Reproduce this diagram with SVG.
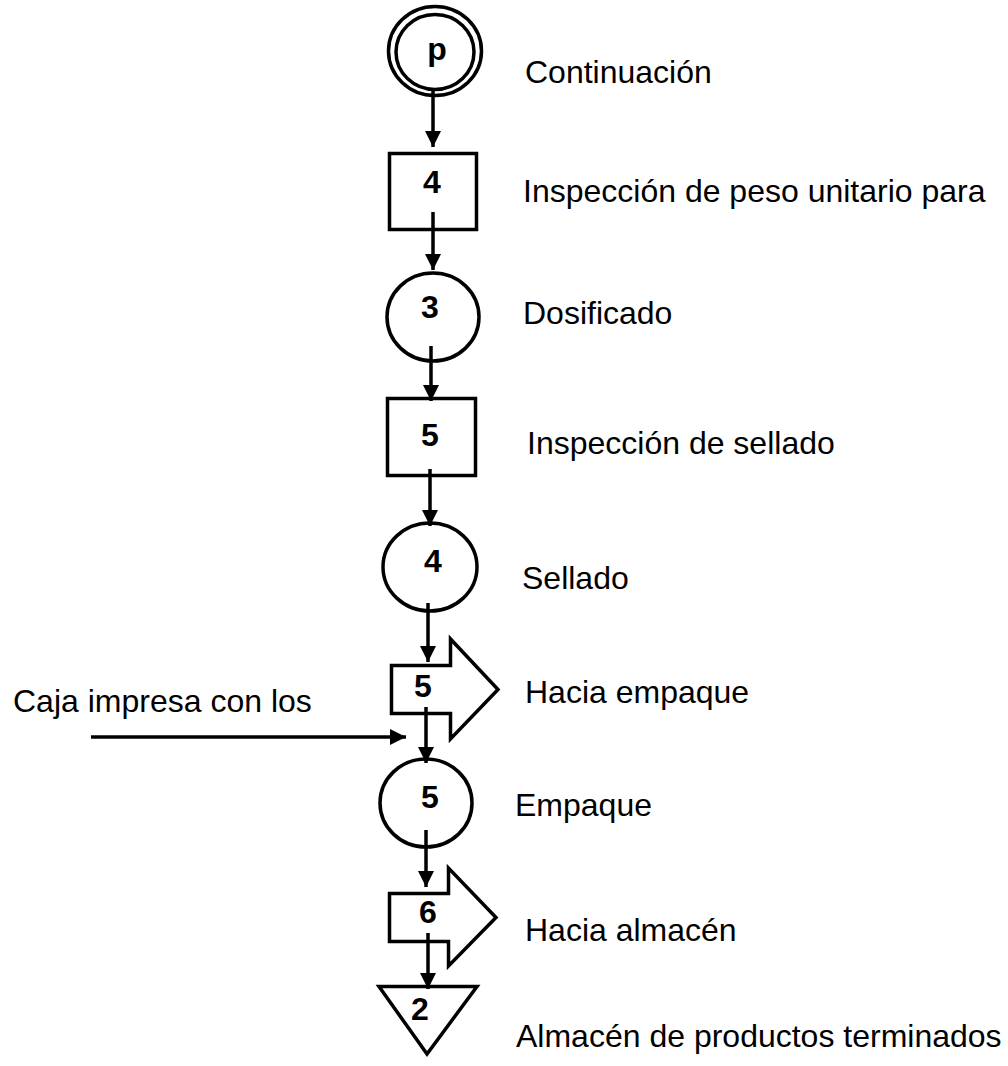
<svg xmlns="http://www.w3.org/2000/svg" width="1008" height="1066" viewBox="0 0 1008 1066">
<style>
.shape{fill:#fff;stroke:#000;stroke-width:3.5;stroke-linejoin:miter}
.num{font-family:"Liberation Sans",Arial,sans-serif;font-weight:bold;font-size:32px;fill:#000;text-anchor:middle}
.lbl{font-family:"Liberation Sans",Arial,sans-serif;font-size:32px;fill:#000}
.conn{stroke:#000;stroke-width:3.5;fill:none}
</style>
<defs>
<marker id="ah" markerUnits="userSpaceOnUse" markerWidth="18" markerHeight="18" refX="16" refY="8" orient="auto">
<path d="M0,0 L16,8 L0,16 z" fill="#000"/>
</marker>
</defs>
<rect width="1008" height="1066" fill="#fff"/>
<g id="n-continuacion">
<ellipse class="shape" cx="435" cy="51" rx="46.5" ry="44.5"/>
<ellipse class="shape" cx="435" cy="52" rx="39" ry="37.5"/>
<text class="num" x="437" y="60">p</text>
<text class="lbl" x="525" y="83">Continuación</text>
</g>
<g id="n-insp4">
<rect class="shape" x="389.5" y="153.5" width="87" height="76"/>
<text class="num" x="432" y="193">4</text>
<text class="lbl" x="523" y="202">Inspección de peso unitario para</text>
</g>
<g id="n-op3">
<ellipse class="shape" cx="433" cy="317" rx="46" ry="44"/>
<text class="num" x="430" y="318">3</text>
<text class="lbl" x="523" y="324">Dosificado</text>
</g>
<g id="n-insp5">
<rect class="shape" x="387.5" y="398.5" width="88" height="77"/>
<text class="num" x="430" y="446">5</text>
<text class="lbl" x="527" y="454">Inspección de sellado</text>
</g>
<g id="n-op4">
<ellipse class="shape" cx="430" cy="567" rx="47" ry="44"/>
<text class="num" x="433" y="572">4</text>
<text class="lbl" x="522" y="589">Sellado</text>
</g>
<g id="n-trans5">
<path class="shape" d="M391.5,665.5 H450.5 V639 L498,689.5 L450.5,739 V713.5 H391.5 Z"/>
<text class="num" x="423" y="697">5</text>
<text class="lbl" x="525" y="703">Hacia empaque</text>
</g>
<g id="n-caja">
<text class="lbl" x="13" y="712">Caja impresa con los</text>
</g>
<g id="n-op5">
<ellipse class="shape" cx="426" cy="803" rx="46" ry="44"/>
<text class="num" x="430" y="808">5</text>
<text class="lbl" x="515" y="816">Empaque</text>
</g>
<g id="n-trans6">
<path class="shape" d="M389.5,893.5 H448.5 V868 L496,917.5 L448.5,966 V941.5 H389.5 Z"/>
<text class="num" x="428" y="923">6</text>
<text class="lbl" x="525" y="941">Hacia almacén</text>
</g>
<g id="n-alm2">
<path class="shape" d="M379,986.5 H477 L427,1054 Z"/>
<text class="num" x="420" y="1020">2</text>
<text class="lbl" x="516" y="1047">Almacén de productos terminados</text>
</g>
<g id="connectors">
<line class="conn" x1="433" y1="88" x2="433" y2="147" marker-end="url(#ah)"/>
<line class="conn" x1="433" y1="212" x2="433" y2="270" marker-end="url(#ah)"/>
<line class="conn" x1="431" y1="346" x2="431" y2="401" marker-end="url(#ah)"/>
<line class="conn" x1="430" y1="469" x2="430" y2="526" marker-end="url(#ah)"/>
<line class="conn" x1="428" y1="603" x2="428" y2="662" marker-end="url(#ah)"/>
<line class="conn" x1="426" y1="707" x2="426" y2="763" marker-end="url(#ah)"/>
<line class="conn" x1="426" y1="830" x2="426" y2="887" marker-end="url(#ah)"/>
<line class="conn" x1="428" y1="933" x2="428" y2="989" marker-end="url(#ah)"/>
<line class="conn" x1="91" y1="737" x2="406" y2="737" marker-end="url(#ah)"/>
</g>
</svg>
